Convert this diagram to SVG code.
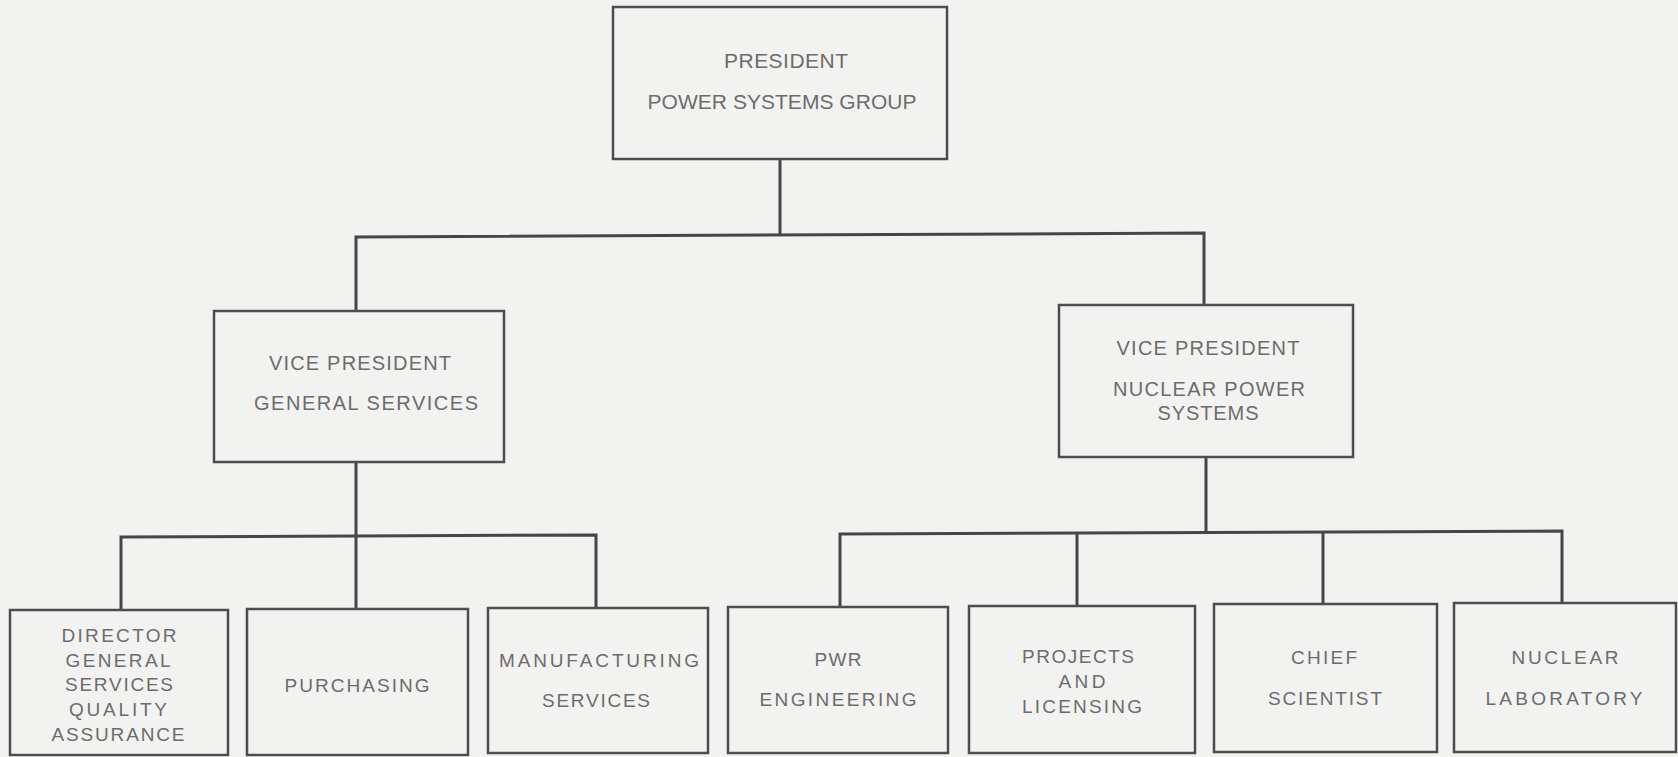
<svg xmlns="http://www.w3.org/2000/svg" width="1678" height="757" viewBox="0 0 1678 757">
  <style>
    .bg { fill: #f2f2f0; }
    .box { fill: #f2f2f0; stroke: #4d4d4d; stroke-width: 2.5; }
    .wire { fill: none; stroke: #464646; stroke-width: 3; stroke-linejoin: miter; }
    text { font-family: "Liberation Sans", Arial, sans-serif; fill: #6c6c6c; text-anchor: middle; }
    .t1 { font-size: 21px; }
    .t2 { font-size: 20px; }
    .t3 { font-size: 19px; }
  </style>

  <rect class="bg" x="0" y="0" width="1678" height="757"/>

  <!-- reporting lines -->
  <g id="connectors">
    <polyline class="wire" points="780,159 780,235"/>
    <polyline class="wire" points="356,311 356,237 1204,233 1204,305"/>
    <polyline class="wire" points="356,462 356,609"/>
    <polyline class="wire" points="121,610 121,537 596,535 596,608"/>
    <polyline class="wire" points="1206,457 1206,533"/>
    <polyline class="wire" points="840,607 840,534 1562,531 1562,603"/>
    <polyline class="wire" points="1077,533 1077,606"/>
    <polyline class="wire" points="1323,532 1323,604"/>
  </g>

  <g id="president">
    <rect class="box" x="613" y="7" width="334" height="152"/>
    <text class="t1" x="786" y="68" textLength="124" lengthAdjust="spacing">PRESIDENT</text>
    <text class="t1" x="782" y="109" textLength="269" lengthAdjust="spacing">POWER SYSTEMS GROUP</text>
  </g>

  <g id="vp-general-services">
    <rect class="box" x="214" y="311" width="290" height="151"/>
    <text class="t2" x="360" y="370" textLength="182" lengthAdjust="spacing">VICE PRESIDENT</text>
    <text class="t2" x="366" y="410" textLength="224" lengthAdjust="spacing">GENERAL SERVICES</text>
  </g>

  <g id="vp-nuclear-power-systems">
    <rect class="box" x="1059" y="305" width="294" height="152"/>
    <text class="t2" x="1208" y="355" textLength="183" lengthAdjust="spacing">VICE PRESIDENT</text>
    <text class="t2" x="1209" y="396" textLength="192" lengthAdjust="spacing">NUCLEAR POWER</text>
    <text class="t2" x="1208" y="420" textLength="101" lengthAdjust="spacing">SYSTEMS</text>
  </g>

  <g id="director-gs-qa">
    <rect class="box" x="10" y="610" width="218" height="145"/>
    <text class="t3" x="119" y="642" textLength="115" lengthAdjust="spacing">DIRECTOR</text>
    <text class="t3" x="118" y="667" textLength="105" lengthAdjust="spacing">GENERAL</text>
    <text class="t3" x="119" y="691" textLength="108" lengthAdjust="spacing">SERVICES</text>
    <text class="t3" x="118" y="716" textLength="98" lengthAdjust="spacing">QUALITY</text>
    <text class="t3" x="118" y="741" textLength="133" lengthAdjust="spacing">ASSURANCE</text>
  </g>

  <g id="purchasing">
    <rect class="box" x="247" y="609" width="221" height="146"/>
    <text class="t3" x="357" y="692" textLength="145" lengthAdjust="spacing">PURCHASING</text>
  </g>

  <g id="manufacturing-services">
    <rect class="box" x="488" y="608" width="220" height="145"/>
    <text class="t3" x="599" y="667" textLength="200" lengthAdjust="spacing">MANUFACTURING</text>
    <text class="t3" x="596" y="707" textLength="108" lengthAdjust="spacing">SERVICES</text>
  </g>

  <g id="pwr-engineering">
    <rect class="box" x="728" y="607" width="220" height="146"/>
    <text class="t3" x="838" y="666" textLength="47" lengthAdjust="spacing">PWR</text>
    <text class="t3" x="838" y="706" textLength="157" lengthAdjust="spacing">ENGINEERING</text>
  </g>

  <g id="projects-licensing">
    <rect class="box" x="969" y="606" width="226" height="147"/>
    <text class="t3" x="1078" y="663" textLength="112" lengthAdjust="spacing">PROJECTS</text>
    <text class="t3" x="1082" y="688" textLength="47" lengthAdjust="spacing">AND</text>
    <text class="t3" x="1082" y="713" textLength="120" lengthAdjust="spacing">LICENSING</text>
  </g>

  <g id="chief-scientist">
    <rect class="box" x="1214" y="604" width="223" height="148"/>
    <text class="t3" x="1324" y="664" textLength="66" lengthAdjust="spacing">CHIEF</text>
    <text class="t3" x="1325" y="705" textLength="114" lengthAdjust="spacing">SCIENTIST</text>
  </g>

  <g id="nuclear-laboratory">
    <rect class="box" x="1454" y="603" width="222" height="149"/>
    <text class="t3" x="1565" y="664" textLength="107" lengthAdjust="spacing">NUCLEAR</text>
    <text class="t3" x="1564" y="705" textLength="157" lengthAdjust="spacing">LABORATORY</text>
  </g>
</svg>
